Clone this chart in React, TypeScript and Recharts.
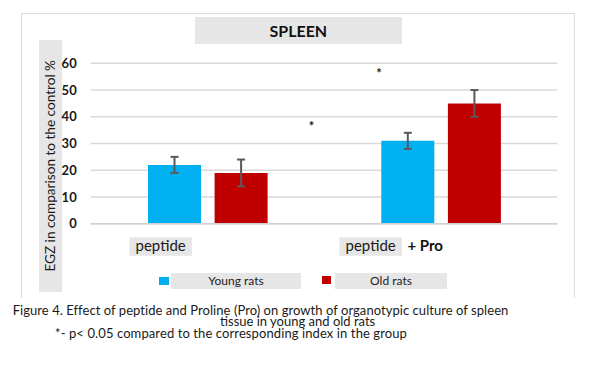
import {
  ComposedChart,
  Bar,
  ErrorBar,
  Scatter,
  XAxis,
  YAxis,
  CartesianGrid,
  Legend,
} from 'recharts';

const categories = ['peptide', 'peptide + Pro'];
const youngValues = [22, 31];
const youngErrors = [3, 3];
const oldValues = [19, 45];
const oldErrors = [5, 5];
const yTicks = [0, 10, 20, 30, 40, 50, 60];
// significance marks: x in band units (0..2), y in %
const starX = [0.947, 1.236];
const starY = [36.7, 56.5];

const YOUNG = '#00b0f0';
const OLD = '#c00000';
const BOXGRAY = '#e7e6e6';
const FONT = 'Lato, "Open Sans", sans-serif';

const data = categories.map((name, i) => ({
  name,
  young: youngValues[i],
  youngErr: youngErrors[i],
  old: oldValues[i],
  oldErr: oldErrors[i],
}));

const starData = starX.map((sx, i) => ({ sx, sy: starY[i] }));

// box offsets relative to band centre for each category label
const labelBoxLeft = [-77.9, -101.2];

const CategoryTick = (props: any) => {
  const { x, y, index } = props;
  const [main, extra] = categories[index].split(' + ');
  const bx = x + labelBoxLeft[index];
  return (
    <g>
      <rect x={bx} y={y + 13.6} width={62.4} height={18.5} fill={BOXGRAY} />
      <text x={bx + 31.2} y={y + 27} textAnchor="middle" fontSize={15} fill="#1a1a1a" fontFamily={FONT}>
        {main}
      </text>
      {extra && (
        <text x={bx + 68} y={y + 27} fontSize={15} fontWeight="bold" fill="#111" fontFamily={FONT}>
          + {extra}
        </text>
      )}
    </g>
  );
};

const renderLegend = () => (
  <div style={{ position: 'relative', height: 0, width: 600 }}>
    <div style={{ position: 'absolute', left: 159.3, top: 3.5, width: 9.4, height: 8.5, background: YOUNG }} />
    <div
      style={{
        position: 'absolute', left: 171, top: 0, width: 130, height: 15.7, background: BOXGRAY,
        fontFamily: FONT, fontSize: 12, color: '#222', textAlign: 'center', lineHeight: '15.7px',
      }}
    >
      Young rats
    </div>
    <div style={{ position: 'absolute', left: 321.7, top: 2.5, width: 9.4, height: 8.6, background: OLD }} />
    <div
      style={{
        position: 'absolute', left: 335, top: 0, width: 112, height: 15.7, background: BOXGRAY,
        fontFamily: FONT, fontSize: 12, color: '#222', textAlign: 'center', lineHeight: '15.7px',
      }}
    >
      Old rats
    </div>
  </div>
);

const Star = (props: any) => (
  <text x={props.cx} y={props.cy + 5} textAnchor="middle" fontSize={13} fontWeight="bold" fill="#1a1a1a" fontFamily={FONT}>
    *
  </text>
);

const captionLine = {
  position: 'absolute' as const,
  whiteSpace: 'nowrap' as const,
  fontFamily: FONT,
  fontSize: 13,
  color: '#1a1a1a',
  height: 11.7,
  lineHeight: '11.7px',
  overflow: 'visible' as const,
};

export default function App() {
  return (
    <div style={{ position: 'absolute', left: 0, top: 0, width: 600, height: 369, background: '#fff', overflow: 'hidden' }}>
      {/* chart frame */}
      <div
        style={{
          position: 'absolute', left: 20.7, top: 12.7, width: 552, height: 284,
          borderTop: '1.5px solid #dcdcdc', borderLeft: '1.5px solid #dcdcdc', borderRight: '1.5px solid #dcdcdc',
        }}
      />
      {/* title */}
      <div
        style={{
          position: 'absolute', left: 195, top: 17.3, width: 206.7, height: 27, background: BOXGRAY,
          fontFamily: FONT, fontWeight: 'bold', fontSize: 16, color: '#111', textAlign: 'center', lineHeight: '27px',
        }}
      >
        SPLEEN
      </div>
      {/* y-axis label */}
      <div
        style={{
          position: 'absolute', left: 39.3, top: 40, width: 22.4, height: 252, background: BOXGRAY,
          display: 'flex', alignItems: 'center', justifyContent: 'center',
        }}
      >
        <div
          style={{
            writingMode: 'vertical-rl', transform: 'rotate(180deg)', whiteSpace: 'nowrap',
            fontFamily: FONT, fontSize: 13.6, color: '#1a1a1a',
          }}
        >
          EGZ in comparison to the control %
        </div>
      </div>

      <div style={{ position: 'absolute', left: 0, top: 0 }}>
        <ComposedChart
          width={600}
          height={300}
          data={data}
          margin={{ top: 63.3, right: 42.7, left: 50.7, bottom: 46.3 }}
          barGap={13.6}
          barCategoryGap={57.3}
        >
          <CartesianGrid vertical={false} stroke="#d9d9d9" strokeWidth={1.5} />
          <XAxis
            dataKey="name"
            axisLine={{ stroke: '#d0d0d0', strokeWidth: 1.5 }}
            tickLine={false}
            tickSize={0}
            tickMargin={0}
            height={30}
            tick={<CategoryTick />}
            interval={0}
          />
          <XAxis xAxisId="num" type="number" dataKey="sx" domain={[0, 2]} allowDataOverflow hide />
          <YAxis
            domain={[0, 60]}
            ticks={yTicks}
            width={40}
            axisLine={false}
            tickLine={false}
            tickSize={6}
            tickMargin={8}
            tick={{ fill: '#1a1a1a', fontSize: 13, fontWeight: 'bold', fontFamily: FONT }}
          />
          <Legend content={renderLegend} wrapperStyle={{ top: 273.3, left: 0, bottom: 'auto', width: 600, height: 0 }} />
          <Bar dataKey="young" name="Young rats" fill={YOUNG} isAnimationActive={false}>
            <ErrorBar dataKey="youngErr" width={4} stroke="#595959" strokeWidth={2} />
          </Bar>
          <Bar dataKey="old" name="Old rats" fill={OLD} isAnimationActive={false}>
            <ErrorBar dataKey="oldErr" width={4} stroke="#595959" strokeWidth={2} />
          </Bar>
          <Scatter
            xAxisId="num"
            data={starData}
            dataKey="sy"
            shape={<Star />}
            legendType="none"
            isAnimationActive={false}
          />
        </ComposedChart>
      </div>

      {/* caption */}
      <div style={{ ...captionLine, left: 12.7, top: 304.6, letterSpacing: 0.05 }}>
        Figure 4. Effect of peptide and Proline (Pro) on growth of organotypic culture of spleen
      </div>
      <div style={{ ...captionLine, left: 220, top: 316.4 }}>tissue in young and old rats</div>
      <div style={{ ...captionLine, left: 55, top: 328.2, letterSpacing: 0.1 }}>
        *- p&lt; 0.05 compared to the corresponding index in the group
      </div>
    </div>
  );
}
